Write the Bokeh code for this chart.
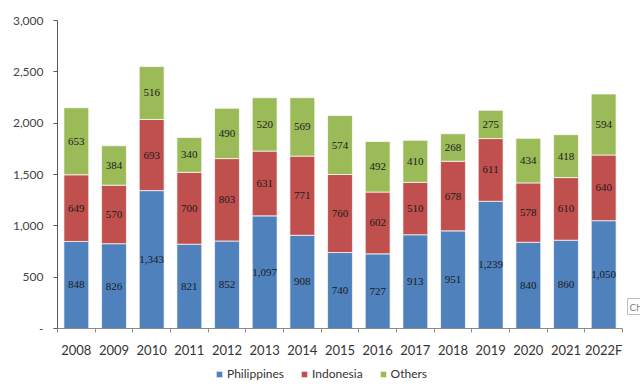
from bokeh.plotting import figure
from bokeh.layouts import column
from bokeh.models import (ColumnDataSource, FixedTicker, NumeralTickFormatter, Legend,
                          LegendItem, LabelSet, Label, Range1d)
from bokeh.embed import file_html
from bokeh.resources import INLINE

years = ["2008", "2009", "2010", "2011", "2012", "2013", "2014", "2015",
         "2016", "2017", "2018", "2019", "2020", "2021", "2022F"]
philippines = [848, 826, 1343, 821, 852, 1097, 908, 740, 727, 913, 951, 1239, 840, 860, 1050]
indonesia = [649, 570, 693, 700, 803, 631, 771, 760, 602, 510, 678, 611, 578, 610, 640]
others = [653, 384, 516, 340, 490, 520, 569, 574, 492, 410, 268, 275, 434, 418, 594]
series = ["Philippines", "Indonesia", "Others"]
colors = ["#4F81BD", "#C0504D", "#9BBB59"]
y_ticks = [0, 500, 1000, 1500, 2000, 2500, 3000]

FONT = "Lato"

xs = list(range(len(years)))
data = dict(x=xs, Philippines=philippines, Indonesia=indonesia, Others=others)
src = ColumnDataSource(data)

# frame spans 57..640 px; categories occupy 57..622 px
n = len(years)
x_end = n - 0.5 + 18 / (565 / n)

p = figure(width=640, height=360, output_backend="svg", toolbar_location=None,
           x_range=Range1d(-0.5, x_end), y_range=Range1d(0, 3000),
           min_border_left=57, min_border_right=0, min_border_top=20, min_border_bottom=29)
p.outline_line_color = None
p.xgrid.visible = False
p.ygrid.visible = False

rs = p.vbar_stack(series, x="x", width=0.66, color=colors, source=src,
                  line_color="white", line_width=1, line_alpha=0.7)

# data labels at segment centres
lab_x, lab_y, lab_t = [], [], []
for i in xs:
    base = 0
    for vals in (philippines, indonesia, others):
        v = vals[i]
        lab_x.append(i)
        lab_y.append(base + v / 2)
        lab_t.append(f"{v:,}")
        base += v
lsrc = ColumnDataSource(dict(x=lab_x, y=lab_y, t=lab_t))
p.add_layout(LabelSet(x="x", y="y", text="t", source=lsrc, text_align="center",
                      text_baseline="middle", text_font=FONT, text_font_size="11px",
                      text_color="#1a1a1a"))

# axes
xa = p.xaxis[0]
xa.bounds = (-0.5, n - 0.5)
xa.ticker = FixedTicker(ticks=xs, minor_ticks=[i - 0.5 for i in xs] + [n - 0.5])
xa.major_label_overrides = {i: y for i, y in enumerate(years)}
xa.major_tick_out = 0
xa.major_tick_in = 0
xa.minor_tick_out = 4
xa.minor_tick_in = 0
xa.minor_tick_line_color = "#8c8c8c"
xa.axis_line_color = "#8c8c8c"
xa.major_label_text_font = FONT
xa.major_label_text_font_size = "13px"
xa.major_label_text_color = "#333333"
xa.major_label_standoff = 9

ya = p.yaxis[0]
ya.ticker = FixedTicker(ticks=y_ticks, minor_ticks=[])
ya.formatter = NumeralTickFormatter(format="0,0")
ya.major_label_overrides = {0: "-"}
ya.major_tick_out = 4
ya.major_tick_in = 0
ya.major_tick_line_color = "#595959"
ya.axis_line_color = "#595959"
ya.major_label_text_font = FONT
ya.major_label_text_font_size = "12px"
ya.major_label_text_color = "#444444"
ya.major_label_standoff = 10

p.add_layout(Label(x=570, y=14, x_units="screen", y_units="screen", text="Chart Area",
                   text_font=FONT, text_font_size="10px", text_color="#7f7f7f",
                   border_line_color="#bfbfbf", background_fill_color="white",
                   padding=2))

# legend strip below
q = figure(width=640, height=24, output_backend="svg", toolbar_location=None,
           x_range=Range1d(0, 1), y_range=Range1d(0, 1),
           x_axis_location=None, y_axis_location=None, min_border=0)
q.outline_line_color = None
q.xgrid.visible = False
q.ygrid.visible = False
lr = []
for s, c in zip(series, colors):
    dummy = ColumnDataSource(dict(x=[5], top=[0]))
    lr.append(q.vbar(x="x", top="top", width=0.5, source=dummy, fill_color=c,
                     line_color="white", line_width=1, line_alpha=0.7))
legend = Legend(items=[LegendItem(label=s, renderers=[r]) for s, r in zip(series, lr)],
                orientation="horizontal", location=(158, 3), padding=0, margin=0,
                spacing=16, label_standoff=4, glyph_width=8, glyph_height=8,
                label_height=14, label_text_font=FONT, label_text_font_size="12px",
                label_text_color="#333333", border_line_color=None,
                background_fill_alpha=0)
q.add_layout(legend, "center")

open("out.html", "w").write(file_html(column(p, q, spacing=0), INLINE))
